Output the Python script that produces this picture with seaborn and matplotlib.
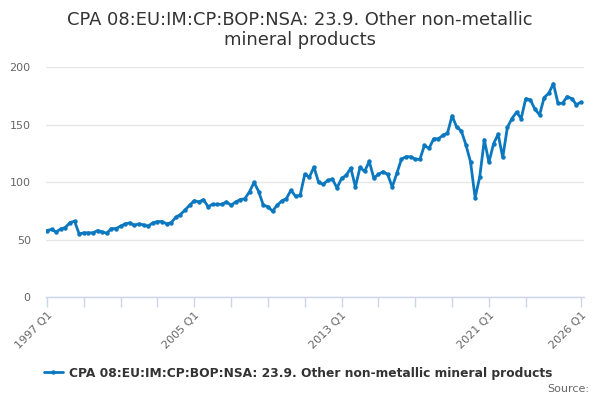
import matplotlib
matplotlib.use("Agg")
import matplotlib.pyplot as plt
import seaborn as sns
import pandas as pd

# ---- data ----
quarters = [f"{y} Q{q}" for y in range(1997, 2027) for q in range(1, 5)][:117]

values = [
    57.8, 58.7, 56.6, 59.2, 60.4, 64.7, 65.9, 54.9, 55.8, 55.8,
    55.8, 57.8, 56.6, 55.5, 59.5, 59.5, 61.6, 63.6, 64.5, 62.4,
    63.6, 62.7, 61.6, 64.5, 65.6, 65.6, 63.6, 64.7, 69.4, 71.7,
    75.7, 79.8, 83.8, 82.7, 84.7, 78.6, 80.6, 80.6, 80.6, 82.7,
    79.8, 82.7, 84.7, 85.5, 91.6, 99.7, 91.6, 79.8, 78.6, 74.6,
    79.8, 83.5, 85.5, 92.8, 87.6, 88.4, 106.6, 104.3, 113.0, 99.7,
    98.0, 101.4, 102.6, 94.8, 103.2, 105.8, 112.1, 95.7, 112.7, 109.2,
    117.9, 103.5, 106.6, 109.0, 106.6, 95.7, 107.5, 119.9, 122.0, 122.0,
    119.9, 119.7, 131.8, 129.2, 137.6, 137.6, 140.5, 142.5, 157.5, 147.7,
    144.5, 132.4, 117.6, 86.4, 104.3, 136.7, 117.1, 133.2, 141.6, 121.4,
    147.4, 155.2, 160.7, 155.2, 172.5, 171.4, 163.3, 158.4, 173.4, 177.2,
    185.5, 168.5, 168.5, 174.3, 172.5, 167.3, 169.4,
]

series_name = "CPA 08:EU:IM:CP:BOP:NSA: 23.9. Other non-metallic mineral products"
title_text = "CPA 08:EU:IM:CP:BOP:NSA: 23.9. Other non-metallic\nmineral products"
tick_positions = [0, 8, 16, 24, 32, 40, 48, 56, 64, 72, 80, 88, 96, 104, 116]
labelled_ticks = ["1997 Q1", "2005 Q1", "2013 Q1", "2021 Q1", "2026 Q1"]
y_ticks = [0, 50, 100, 150, 200]

df = pd.DataFrame({"idx": range(len(values)), "value": values, "quarter": quarters[:len(values)]})

# ---- style ----
sns.set_theme(style="white")
plt.rcParams["font.family"] = ["DejaVu Sans"]

line_color = "#0b78bf"
grid_color = "#e6e6e6"
axis_color = "#ccd6eb"
label_color = "#666666"
title_color = "#333333"

fig = plt.figure(figsize=(6, 4), dpi=100)
ax = fig.add_axes([46 / 600, 1 - 297 / 400, (584 - 46) / 600, (297 - 67) / 400])

sns.lineplot(data=df, x="idx", y="value", ax=ax, color=line_color, linewidth=2,
             marker="o", markersize=3.2, markeredgewidth=0, label=series_name,
             legend=False)

ax.set_xlim(-0.2, 116.65)
ax.set_ylim(0, 200)
ax.set_xlabel("")
ax.set_ylabel("")

ax.set_yticks(y_ticks)
ax.set_yticklabels([str(v) for v in y_ticks])
ax.yaxis.grid(True, color=grid_color, linewidth=1)
ax.xaxis.grid(False)
ax.set_axisbelow(True)

ax.set_xticks(tick_positions)
ax.set_xticklabels([quarters[p] if quarters[p] in labelled_ticks else "" for p in tick_positions],
                   rotation=45, ha="right", rotation_mode="anchor")

for s in ["left", "right", "top"]:
    ax.spines[s].set_visible(False)
ax.spines["bottom"].set_color(axis_color)
ax.spines["bottom"].set_linewidth(1)

ax.tick_params(axis="x", length=7.2, width=1, color=axis_color, labelcolor=label_color,
               labelsize=8, pad=2, direction="out", bottom=True)
ax.tick_params(axis="y", length=0, labelsize=8, pad=11, labelcolor=label_color)

fig.text(0.5, 1 - 30 / 400, title_text, ha="center", va="center", fontsize=12.9,
         color=title_color, linespacing=1.2)

handles, labels = ax.get_legend_handles_labels()
leg = fig.legend(handles, labels, loc="center", bbox_to_anchor=(0.497, 27 / 400),
                 frameon=False, handlelength=1.6, handletextpad=0.5,
                 prop={"weight": "bold", "size": 8.8})
for txt in leg.get_texts():
    txt.set_color(title_color)

fig.text(589 / 600, 11 / 400, "Source:", ha="right", va="center", fontsize=8,
         color=label_color)

fig.savefig("out.png", dpi=100)
